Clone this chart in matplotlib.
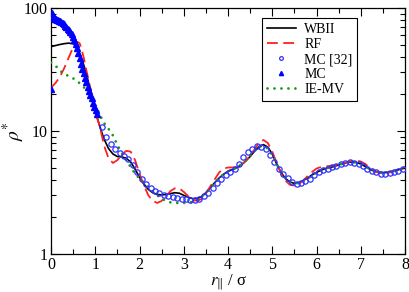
import matplotlib
matplotlib.use("Agg")
import matplotlib.pyplot as plt
from matplotlib.ticker import MultipleLocator, LogLocator, NullFormatter

plt.rcParams['font.family'] = ['Liberation Serif', 'DejaVu Serif']
plt.rcParams['mathtext.fontset'] = 'stix'

# WBII (solid black)
wb_x = [0, 0.1, 0.2, 0.3, 0.4, 0.5, 0.55, 0.6, 0.65, 0.7, 0.75, 0.8, 0.85, 0.9, 0.95, 1.0, 1.05, 1.1, 1.15, 1.2,
        1.3, 1.4, 1.5, 1.6, 1.7, 1.8, 1.9, 2.0, 2.1, 2.2, 2.3, 2.4, 2.5, 2.6, 2.7, 2.8, 2.9, 3.0, 3.1, 3.2,
        3.3, 3.4, 3.5, 3.6, 3.7, 3.8, 3.9, 4.0, 4.1, 4.2, 4.3, 4.4, 4.5, 4.6, 4.7, 4.8, 4.9, 5.0, 5.1, 5.2,
        5.3, 5.4, 5.5, 5.6, 5.7, 5.8, 5.9, 6.0, 6.1, 6.2, 6.3, 6.4, 6.5, 6.6, 6.7, 6.8, 6.9, 7.0, 7.1, 7.2,
        7.3, 7.4, 7.5, 7.6, 7.7, 7.8, 7.9, 8.0]
wb_y = [48.5, 49.5, 50.5, 51.3, 51.8, 51.2, 49.5, 46.5, 42.5, 38, 33.5, 29, 24.5, 20.5, 17, 14.5, 12.6, 11, 9.7, 8.6,
        7.2, 6.5, 6.2, 6.15, 6.0, 5.6, 4.9, 4.2, 3.7, 3.35, 3.15, 3.05, 3.02, 3.05, 3.1, 3.15, 3.12, 3.0, 2.9, 2.82,
        2.82, 2.92, 3.15, 3.45, 3.8, 4.15, 4.45, 4.7, 4.85, 5.05, 5.3, 5.7, 6.2, 6.85, 7.45, 7.75, 7.4, 6.5, 5.4, 4.6,
        4.1, 3.85, 3.75, 3.8, 3.95, 4.15, 4.4, 4.6, 4.8, 4.95, 5.05, 5.15, 5.3, 5.45, 5.55, 5.6, 5.55, 5.4, 5.15, 4.9,
        4.72, 4.62, 4.58, 4.6, 4.68, 4.78, 4.9, 5.0]

# RF (red dashed)
rf_x = [0, 0.1, 0.2, 0.3, 0.4, 0.5, 0.55, 0.6, 0.65, 0.7, 0.75, 0.8, 0.85, 0.9, 0.95, 1.0, 1.05, 1.1, 1.2,
        1.3, 1.4, 1.5, 1.6, 1.7, 1.8, 1.9, 2.0, 2.1, 2.2, 2.3, 2.4, 2.5, 2.6, 2.7, 2.8, 2.9, 3.0, 3.1, 3.2,
        3.3, 3.4, 3.5, 3.6, 3.7, 3.8, 3.9, 4.0, 4.1, 4.2, 4.3, 4.4, 4.5, 4.6, 4.7, 4.8, 4.9, 5.0, 5.1, 5.2,
        5.3, 5.4, 5.5, 5.6, 5.7, 5.8, 5.9, 6.0, 6.1, 6.2, 6.3, 6.4, 6.5, 6.6, 6.7, 6.8, 6.9, 7.0, 7.1, 7.2,
        7.3, 7.4, 7.5, 7.6, 7.7, 7.8, 7.9, 8.0]
rf_y = [22.5, 24.5, 27.5, 32.5, 39.5, 48, 51.5, 53, 51.5, 45, 38, 31, 26, 21.5, 17, 14.5, 12.5, 11, 7.6,
        6.0, 5.5, 5.8, 6.4, 6.9, 6.8, 5.8, 4.5, 3.6, 3.0, 2.7, 2.6, 2.7, 2.95, 3.25, 3.42, 3.42, 3.2, 2.95, 2.75,
        2.7, 2.8, 3.1, 3.55, 4.05, 4.6, 4.95, 5.05, 5.05, 5.1, 5.3, 5.7, 6.3, 7.1, 8.0, 8.45, 8.0, 6.8, 5.5, 4.5,
        3.95, 3.65, 3.6, 3.7, 3.95, 4.3, 4.65, 4.95, 5.1, 5.15, 5.2, 5.25, 5.35, 5.45, 5.6, 5.72, 5.75, 5.65, 5.4, 5.05,
        4.75, 4.58, 4.52, 4.55, 4.65, 4.8, 4.95, 5.1]

# MC [32] (open blue circles)
mc32_x = [1.15, 1.25, 1.35, 1.45, 1.55, 1.65, 1.75, 1.85, 1.95, 2.05, 2.15, 2.25, 2.35, 2.45, 2.55, 2.65, 2.75,
          2.85, 2.95, 3.05, 3.15, 3.25, 3.35, 3.45, 3.55, 3.65, 3.75, 3.85, 3.95, 4.05, 4.15, 4.25, 4.35, 4.45,
          4.55, 4.65, 4.75, 4.85, 4.95, 5.05, 5.15, 5.25, 5.35, 5.45, 5.55, 5.65, 5.75, 5.85, 5.95, 6.05, 6.15,
          6.25, 6.35, 6.45, 6.55, 6.65, 6.75, 6.85, 6.95, 7.05, 7.15, 7.25, 7.35, 7.45, 7.55, 7.65, 7.75, 7.85, 7.95]
mc32_y = [10.8, 9.0, 7.8, 7.1, 6.6, 6.3, 5.9, 5.3, 4.6, 4.05, 3.7, 3.45, 3.27, 3.13, 3.02, 2.95, 2.9,
          2.86, 2.82, 2.78, 2.75, 2.76, 2.82, 2.95, 3.15, 3.45, 3.75, 4.05, 4.35, 4.6, 4.95, 5.4, 6.1, 6.7,
          7.2, 7.5, 7.45, 7.15, 6.4, 5.6, 4.95, 4.5, 4.12, 3.85, 3.72, 3.75, 3.9, 4.1, 4.35, 4.6, 4.8,
          4.95, 5.05, 5.2, 5.35, 5.5, 5.55, 5.5, 5.35, 5.15, 4.95, 4.75, 4.6, 4.5, 4.48, 4.52, 4.6, 4.75, 4.9]

# MC (filled blue triangles)
mc_x = [0.0, 0.02, 0.04, 0.06, 0.08, 0.10, 0.12, 0.14, 0.16, 0.18, 0.20, 0.23, 0.26, 0.29, 0.32, 0.35, 0.38,
        0.41, 0.44, 0.47, 0.50, 0.53, 0.56, 0.59, 0.62, 0.65, 0.68, 0.71, 0.74, 0.77, 0.80, 0.83, 0.86, 0.89,
        0.92, 0.95, 0.98, 1.01, 1.04]
mc_y = [22, 91, 86, 83, 82, 81.5, 81, 80.5, 80, 79, 78, 76.5, 75, 73.5, 72, 70, 68,
        66, 64, 61.5, 58, 55, 51, 47, 43, 39, 35, 32, 29.5, 27, 25, 23, 21.3, 19.8,
        18.5, 17, 15.8, 14.8, 13.8]

# IE-MV (green dotted)
ie_x = [0, 0.1, 0.2, 0.3, 0.4, 0.5, 0.6, 0.7, 0.8, 0.9, 1.0, 1.1, 1.2, 1.3, 1.4, 1.5, 1.6, 1.7, 1.8, 1.9,
        2.0, 2.1, 2.2, 2.3, 2.4, 2.5, 2.6, 2.7, 2.8, 2.9, 3.0, 3.1, 3.2, 3.3, 3.4, 3.5, 3.6, 3.7, 3.8, 3.9,
        4.0, 4.1, 4.2, 4.3, 4.4, 4.5, 4.6, 4.7, 4.8, 4.9, 5.0, 5.1, 5.2, 5.3, 5.4, 5.5, 5.6, 5.7, 5.8, 5.9,
        6.0, 6.1, 6.2, 6.3, 6.4, 6.5, 6.6, 6.7, 6.8, 6.9, 7.0, 7.1, 7.2, 7.3, 7.4, 7.5, 7.6, 7.7, 7.8, 7.9, 8.0]
ie_y = [36, 34, 31, 29, 28, 26.8, 25.3, 23.5, 21.6, 19, 16.2, 13.6, 11.6, 10.4, 9.2, 7.7, 6.6, 5.8, 5.1, 4.5,
        4.1, 3.8, 3.5, 3.25, 3.0, 2.82, 2.7, 2.63, 2.6, 2.6, 2.6, 2.62, 2.65, 2.75, 2.92, 3.15, 3.45, 3.8, 4.15, 4.45,
        4.7, 4.85, 5.05, 5.35, 5.75, 6.3, 6.9, 7.45, 7.6, 7.2, 6.4, 5.4, 4.65, 4.1, 3.85, 3.75, 3.78, 3.9, 4.1, 4.35,
        4.6, 4.8, 4.95, 5.05, 5.15, 5.3, 5.45, 5.55, 5.6, 5.55, 5.4, 5.15, 4.92, 4.72, 4.62, 4.58, 4.6, 4.68, 4.78, 4.9, 5.0]

fig = plt.figure(figsize=(4.09, 2.92), dpi=100)
ax = fig.add_axes([51 / 409, 38 / 292, 354 / 409, 246 / 292])

ax.plot(wb_x, wb_y, color='black', lw=1.2, label='WBII', zorder=3)
ax.plot(rf_x, rf_y, color='#ff2020', lw=1.3, dashes=(6, 3), label='RF', zorder=3)
ax.plot(mc32_x, mc32_y, ls='none', marker='o', ms=3.8, mfc='none', mec='#3030ff', mew=0.9,
        label='MC [32]', zorder=4)
ax.plot(mc_x, mc_y, ls='none', marker='^', ms=4.3, color='#0000ff', mec='#0000ff', label='MC', zorder=4)
ax.plot(ie_x, ie_y, color='#1a9a1a', lw=2.0, dashes=(0.01, 2.5), dash_capstyle='round',
        label='IE-MV', zorder=3)

ax.set_yscale('log')
ax.set_xlim(0, 8)
ax.set_ylim(1, 100)
ax.set_yticks([1, 10, 100])
ax.set_yticklabels(['1', '10', '100'])
ax.yaxis.set_minor_locator(LogLocator(base=10, subs=range(2, 10)))
ax.yaxis.set_minor_formatter(NullFormatter())
ax.xaxis.set_major_locator(MultipleLocator(1))
ax.xaxis.set_minor_locator(MultipleLocator(0.5))

ax.tick_params(which='both', direction='in', top=True, right=True, labelsize=11.5, width=0.8)
ax.tick_params(which='major', length=6, pad=2.5)
ax.tick_params(which='minor', length=3.5)
for s in ax.spines.values():
    s.set_linewidth(0.9)

ax.set_xlabel(r'$r_{\|}$ / σ', fontsize=12)
ax.xaxis.set_label_coords(0.5, -0.075)
ax.set_ylabel(r'$\rho^{*}$', fontsize=14)
ax.yaxis.set_label_coords(-0.068, 0.5)

leg = ax.legend(loc='upper left', bbox_to_anchor=(0.596, 0.959), fontsize=10, frameon=True, fancybox=False,
                edgecolor='black', framealpha=1, handlelength=2.1, borderpad=0.35, labelspacing=0.15,
                handletextpad=0.6, borderaxespad=0, markerscale=0.7)
leg.get_frame().set_linewidth(0.8)

fig.savefig('out.png', dpi=100)
